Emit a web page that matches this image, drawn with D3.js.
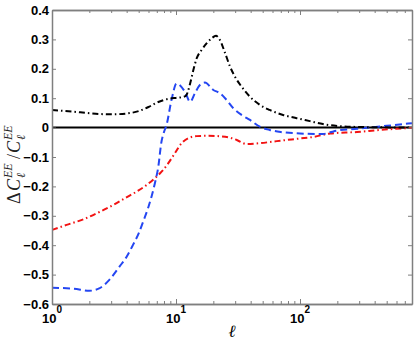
<!DOCTYPE html>
<html>
<head>
<meta charset="utf-8">
<script src="https://cdn.jsdelivr.net/npm/d3@7"></script>
<style>
  body { margin: 0; background: #fff; }
  svg { display: block; }
</style>
</head>
<body>
<script>
// multipole values and fractional change of C_l^EE, three cases
var blackEll = [1, 1.5, 2, 2.5, 3, 4, 5, 6, 7, 8, 9, 10, 11, 12, 13, 13.8, 14.7, 16.1, 17.7, 19.4, 21, 22.6, 24.9, 27.3, 29.9, 33.8, 39.5, 47.5, 57, 73, 94, 120, 153, 210, 300, 450, 800]
var blackVal = [0.060, 0.054, 0.049, 0.046, 0.045, 0.048, 0.056, 0.070, 0.085, 0.094, 0.099, 0.101, 0.103, 0.108, 0.150, 0.196, 0.236, 0.264, 0.287, 0.304, 0.312, 0.298, 0.253, 0.207, 0.173, 0.139, 0.105, 0.077, 0.060, 0.043, 0.032, 0.022, 0.012, 0.005, 0.002, 0.001, 0.000]

var blueEll = [1, 1.5, 2, 2.4, 2.9, 3.5, 4.0, 4.5, 5.0, 5.5, 6.0, 6.4, 6.8, 7.2, 7.6, 8.0, 8.4, 9.2, 10.1, 11.8, 13, 14.2, 15.6, 17.1, 20, 22.6, 25.6, 29, 33.8, 39.5, 47.5, 57, 70, 100, 153, 175, 200, 288, 500, 800]
var blueVal = [-0.545, -0.548, -0.555, -0.547, -0.518, -0.473, -0.439, -0.399, -0.360, -0.314, -0.269, -0.229, -0.184, -0.133, -0.053, -0.015, 0.010, 0.094, 0.150, 0.122, 0.088, 0.117, 0.145, 0.153, 0.128, 0.117, 0.094, 0.066, 0.043, 0.026, 0.003, -0.008, -0.015, -0.020, -0.022, -0.016, -0.010, -0.004, 0.006, 0.015]

var redEll = [1, 1.31, 1.79, 2.44, 3.12, 3.88, 4.8, 5.8, 6.76, 7.65, 8.67, 9.8, 11.1, 12.6, 14.7, 18, 24.9, 30.9, 37, 47.5, 65, 100, 127, 175, 288, 440, 800]
var redVal = [-0.348, -0.331, -0.312, -0.286, -0.263, -0.240, -0.218, -0.195, -0.172, -0.150, -0.121, -0.087, -0.053, -0.036, -0.029, -0.028, -0.031, -0.042, -0.056, -0.053, -0.046, -0.037, -0.032, -0.020, -0.015, -0.008, -0.001]

var yTicks = [0.4, 0.3, 0.2, 0.1, 0, -0.1, -0.2, -0.3, -0.4, -0.5, -0.6]
var xMajor = [1, 10, 100]
var xMajorExp = ["0", "1", "2"]

main()

function main() {
  var W = 415, H = 340
  var LEFT = 52, RIGHT = 412, TOP = 10, BOTTOM = 304
  var AXIS_GRAY = "#7f7f7f"

  var svg = d3.select("body").append("svg")
      .attr("width", W)
      .attr("height", H)

  var x = d3.scaleLog().domain([1, 800]).range([LEFT, RIGHT])
  var y = d3.scaleLinear().domain([-0.6, 0.4]).range([BOTTOM, TOP])

  var xMinor = []
  for (var d = 1; d < 800; d *= 10)
    for (var k = 2; k <= 9; k++)
      if (d * k <= 800) xMinor.push(d * k)

  svg.append("clipPath").attr("id", "plot-clip")
    .append("rect")
      .attr("x", LEFT).attr("y", TOP)
      .attr("width", RIGHT - LEFT).attr("height", BOTTOM - TOP)

  // zero line
  svg.append("line")
      .attr("x1", LEFT).attr("x2", RIGHT)
      .attr("y1", y(0)).attr("y2", y(0))
      .attr("stroke", "#000")
      .attr("stroke-width", 2)

  var line = d3.line()
      .x(function(d) { return x(d[0]) })
      .y(function(d) { return y(d[1]) })
      .curve(d3.curveMonotoneX)

  var series = [
    { ell: redEll, val: redVal, color: "#f21212", dash: "6,3,1.5,3" },
    { ell: blueEll, val: blueVal, color: "#2446f2", dash: "7,4" },
    { ell: blackEll, val: blackVal, color: "#000000", dash: "6,3,1.5,3" }
  ]

  svg.append("g").attr("clip-path", "url(#plot-clip)")
    .selectAll("path")
    .data(series)
    .join("path")
      .attr("d", function(s) { return line(d3.zip(s.ell, s.val)) })
      .attr("fill", "none")
      .attr("stroke", function(s) { return s.color })
      .attr("stroke-width", 2)
      .attr("stroke-dasharray", function(s) { return s.dash })

  // axes box with inward ticks
  function styleAxis(g) {
    g.selectAll(".domain").attr("stroke", AXIS_GRAY).attr("stroke-width", 1.5)
    g.selectAll(".tick line").attr("stroke", AXIS_GRAY).attr("stroke-width", 1)
    g.selectAll(".tick text").remove()
  }

  svg.append("g").attr("transform", "translate(0," + BOTTOM + ")")
      .call(d3.axisBottom(x).tickValues(xMajor).tickSize(-5).tickSizeOuter(0).tickFormat(""))
      .call(styleAxis)
  svg.append("g").attr("transform", "translate(0," + BOTTOM + ")")
      .call(d3.axisBottom(x).tickValues(xMinor).tickSize(-3).tickSizeOuter(0).tickFormat(""))
      .call(styleAxis)
  svg.append("g").attr("transform", "translate(0," + TOP + ")")
      .call(d3.axisTop(x).tickValues(xMajor).tickSize(-5).tickSizeOuter(0).tickFormat(""))
      .call(styleAxis)
  svg.append("g").attr("transform", "translate(0," + TOP + ")")
      .call(d3.axisTop(x).tickValues(xMinor).tickSize(-3).tickSizeOuter(0).tickFormat(""))
      .call(styleAxis)
  svg.append("g").attr("transform", "translate(" + LEFT + ",0)")
      .call(d3.axisLeft(y).tickValues(yTicks).tickSize(-4).tickSizeOuter(0).tickFormat(""))
      .call(styleAxis)
  svg.append("g").attr("transform", "translate(" + RIGHT + ",0)")
      .call(d3.axisRight(y).tickValues(yTicks).tickSize(-4).tickSizeOuter(0).tickFormat(""))
      .call(styleAxis)

  // tick labels
  svg.append("g")
    .selectAll("text")
    .data(yTicks)
    .join("text")
      .attr("x", LEFT - 3)
      .attr("y", function(d) { return y(d) })
      .attr("dy", "0.36em")
      .attr("text-anchor", "end")
      .attr("font-family", "Liberation Sans, Arial, sans-serif")
      .attr("font-weight", "bold")
      .attr("font-size", 13)
      .text(function(d) { return d === 0 ? "0" : (d < 0 ? "\u2212" : "") + Math.abs(d).toFixed(1) })

  var xl = svg.append("g")
    .selectAll("text")
    .data(xMajor)
    .join("text")
      .attr("x", function(d) { return x(d) })
      .attr("y", 323)
      .attr("text-anchor", "middle")
      .attr("font-family", "Liberation Sans, Arial, sans-serif")
      .attr("font-weight", "bold")
      .attr("font-size", 13)
  xl.append("tspan").text("10")
  xl.append("tspan")
      .attr("dy", -10)
      .attr("font-size", 10)
      .text(function(d, i) { return xMajorExp[i] })

  // axis labels
  svg.append("text")
      .attr("x", 232)
      .attr("y", 337)
      .attr("text-anchor", "middle")
      .attr("font-family", "Liberation Serif, serif")
      .attr("font-style", "italic")
      .attr("font-size", 17)
      .text("\u2113")

  var yl = svg.append("g")
      .attr("transform", "translate(20,154) rotate(-90)")
      .attr("font-family", "Liberation Serif, serif")
      .attr("fill", "#222")
  var FS = 18, SS = 12
  var parts = [
    { t: "\u0394", x: -50, y: 0, size: FS, italic: false },
    { t: "C", x: -37, y: 0, size: FS, italic: true },
    { t: "EE", x: -24, y: -8, size: SS, italic: true },
    { t: "\u2113", x: -24, y: 5, size: SS, italic: true },
    { t: "/", x: -5, y: 0, size: FS, italic: false },
    { t: "C", x: 1, y: 0, size: FS, italic: true },
    { t: "EE", x: 14, y: -8, size: SS, italic: true },
    { t: "\u2113", x: 14, y: 5, size: SS, italic: true }
  ]
  yl.selectAll("text")
    .data(parts)
    .join("text")
      .attr("x", function(p) { return p.x })
      .attr("y", function(p) { return p.y })
      .attr("font-size", function(p) { return p.size })
      .attr("font-style", function(p) { return p.italic ? "italic" : "normal" })
      .text(function(p) { return p.t })
}
</script>
</body>
</html>
